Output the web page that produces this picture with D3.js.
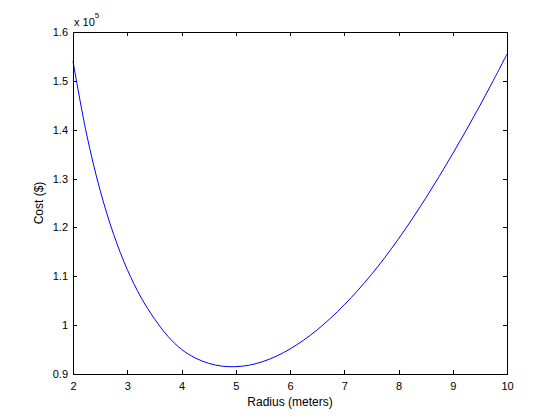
<!DOCTYPE html>
<html>
<head>
<meta charset="utf-8">
<script src="https://cdn.jsdelivr.net/npm/d3@7"></script>
<style>
  html, body { margin: 0; padding: 0; background: #fff; }
  svg { display: block; }
  text { font-family: "Liberation Sans", Arial, Helvetica, sans-serif; fill: #000; }
</style>
</head>
<body>
<svg id="chart" width="560" height="420"></svg>
<script>
const radius = [2.00,2.25,2.50,2.75,3.00,3.25,3.50,3.75,4.00,4.25,4.50,4.75,5.00,5.25,5.50,5.75,6.00,6.25,6.50,6.75,7.00,7.25,7.50,7.75,8.00,8.25,8.50,8.75,9.00,9.25,9.50,9.75,10.00];
const cost = [154000,139120,127590,118550,111400,105760,101330,97710,95040,93300,92190,91600,91500,91810,92540,93650,95120,96920,99030,101450,104150,107120,110350,113870,117660,121700,125960,130440,135100,139930,144930,150110,155500];
const xTicks = [2,3,4,5,6,7,8,9,10];
const yTicks = [90000,100000,110000,120000,130000,140000,150000,160000];
const yTickLabels = ["0.9","1","1.1","1.2","1.3","1.4","1.5","1.6"];
const xLabel = "Radius (meters)";
const yLabel = "Cost ($)";

const svg = d3.select("#chart");
const L = 73, R = 507, T = 32, B = 374;
const x = d3.scaleLinear().domain([2, 10]).range([L, R]);
const y = d3.scaleLinear().domain([90000, 160000]).range([B, T]);
const tick = 4;

const data = radius.map((r, i) => ({ r, c: cost[i] }));

// curve
const line = d3.line().x(d => x(d.r)).y(d => y(d.c)).curve(d3.curveCatmullRom.alpha(0.5));
svg.append("path")
  .datum(data)
  .attr("fill", "none")
  .attr("stroke", "#0000ff")
  .attr("stroke-width", 1)
  .attr("d", line);

// axes
const fmtY = d => yTickLabels[yTicks.indexOf(d)];
const styleAxis = g => {
  g.select(".domain").attr("stroke", "#000").attr("stroke-width", 1).attr("shape-rendering", "crispEdges");
  g.selectAll(".tick line").attr("stroke", "#000").attr("shape-rendering", "crispEdges");
  g.selectAll(".tick text").attr("font-size", 11).attr("fill", "#000");
};

svg.append("g").attr("transform", `translate(0,${B})`)
  .call(d3.axisBottom(x).tickValues(xTicks).tickFormat(d3.format("d")).tickSizeInner(-tick).tickSizeOuter(0).tickPadding(8))
  .call(styleAxis);
svg.append("g").attr("transform", `translate(0,${T})`)
  .call(d3.axisTop(x).tickValues(xTicks).tickFormat("").tickSizeInner(-tick).tickSizeOuter(0))
  .call(styleAxis);
svg.append("g").attr("transform", `translate(${L},0)`)
  .call(d3.axisLeft(y).tickValues(yTicks).tickFormat(fmtY).tickSizeInner(-tick).tickSizeOuter(0).tickPadding(5))
  .call(styleAxis);
svg.append("g").attr("transform", `translate(${R},0)`)
  .call(d3.axisRight(y).tickValues(yTicks).tickFormat("").tickSizeInner(-tick).tickSizeOuter(0))
  .call(styleAxis);

// exponent label
const ex = svg.append("text").attr("x", L + 1).attr("y", 26).attr("font-size", 11);
ex.append("tspan").text("x 10");
ex.append("tspan").attr("dy", -8).attr("font-size", 8).text("5");

// axis labels
svg.append("text").attr("x", (L + R) / 2).attr("y", 406).attr("text-anchor", "middle").attr("font-size", 12).text(xLabel);
svg.append("text").attr("transform", `translate(43,${(T + B) / 2}) rotate(-90)`).attr("text-anchor", "middle").attr("font-size", 12).text(yLabel);
</script>
</body>
</html>
